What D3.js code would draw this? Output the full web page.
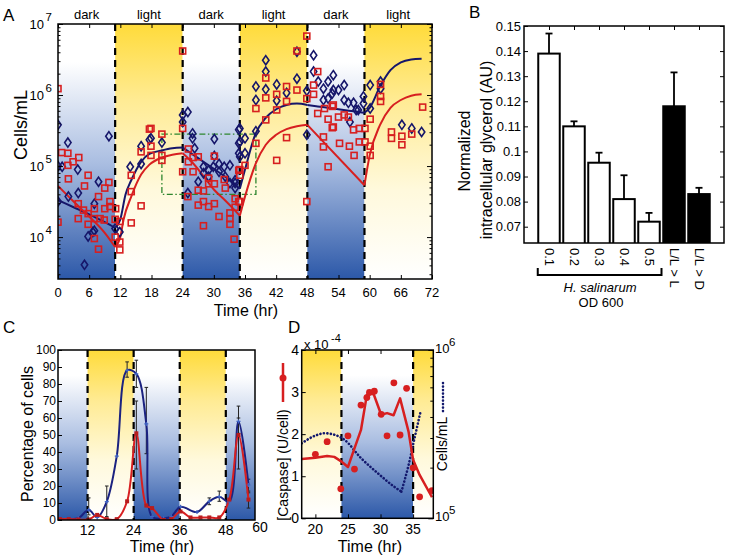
<!DOCTYPE html>
<html><head><meta charset="utf-8">
<script src="https://cdn.jsdelivr.net/npm/d3@7"></script>
<style>
body{margin:0;background:#fff}
svg{display:block}
text{font-family:"Liberation Sans",Arial,Helvetica,sans-serif;fill:#000}
</style></head>
<body><svg id="fig" width="730" height="559"></svg>
<script>
// ---------------- Panel A data ----------------
const phaseStartA = [0, 11, 24, 35, 48, 59];
const phaseEndA   = [11, 24, 35, 48, 59, 72];
const phaseNameA  = ["dark","light","dark","light","dark","light"];
const xTicksA = [0,6,12,18,24,30,36,42,48,54,60,66,72];
const yDecadesA = [4,5,6,7];
// [time (hr), log10(cells/mL)]
const diamondsA = [
 [0,5.58],[1.9,5.33],[0,5.0],[0.8,4.99],[3.8,4.95],[0,4.50],[2.0,4.57],[3.9,4.62],[7.8,4.78],[9.8,5.42],
 [7.0,4.47],[5.8,4.01],[7.0,4.09],[6.7,4.07],[11.0,4.12],[11.9,4.07],[5.1,3.61],[13.9,4.99],[16.0,5.28],[16.0,5.03],[17.6,5.37],
 [17.9,5.39],[20.0,5.33],[24.0,5.72],[25.0,5.76],[24.0,5.62],[25.9,5.46],[25.9,5.39],[30.1,5.38],[26.3,5.25],[30.1,5.14],
 [28.0,4.99],[29.0,4.94],[29.9,4.99],[31.0,5.03],[32.0,4.99],[33.1,5.01],[31.0,4.92],[28.0,4.90],[29.0,4.85],[32.2,4.85],
 [33.1,4.76],[34.1,4.80],[34.8,5.51],[34.8,5.32],[34.8,5.18],[25.0,4.62],[27.0,4.78],[34.1,4.69],
 [40.0,6.49],[46.0,6.61],[40.0,6.33],[42.1,6.15],[40.0,6.08],[46.0,6.23],[38.1,6.12],[38.1,5.93],[42.1,5.92],[44.0,6.03],
 [47.9,6.06],[47.9,5.44],[38.1,5.49],[35.0,5.53],[35.0,5.34],[36.0,5.39],[36.0,5.18],[35.0,5.13],[34.1,4.76],
 [49.2,6.56],[49.2,6.33],[50.1,6.19],[51.1,6.09],[52.0,6.19],[51.1,5.93],[52.0,5.95],[52.8,6.02],
 [53.0,6.28],[55.1,6.14],[53.0,6.07],[54.0,6.07],[55.1,5.93],[55.9,5.89],[56.9,5.89],[57.8,5.79],[58.8,5.98],[58.8,5.88],
 [56.2,5.62],[60.1,6.14],[60.1,5.81],[62.1,6.19],[62.1,6.09],[66.2,5.58],[68.1,5.53],[70.0,5.48],[57.4,5.79]
];
const squaresA = [
 [0,6.09],[0.7,5.19],[1.9,5.18],[1.9,5.01],[4.0,5.12],[2.9,5.06],[2.0,4.82],[5.8,4.87],[5.1,4.72],[7.8,4.57],[9.0,4.69],
 [9.8,4.77],[0,4.21],[3.9,4.47],[3.9,4.26],[4.9,4.38],[5.8,4.33],[5.8,4.18],[7.0,4.40],[7.0,4.26],[8.1,4.26],[8.9,4.24],
 [9.0,4.40],[10.0,4.50],[10.0,4.43],[11.1,4.40],[11.0,4.25],[7.0,3.98],[7.8,3.83],[11.0,4.0],[11.9,4.22],[11.9,3.82],
 [11.9,3.93],[14.1,4.20],[16.0,4.44],[14.1,4.64],[14.1,4.87],[16.0,5.20],[17.6,5.52],
 [24.0,6.62],[17.9,5.53],[17.9,5.28],[17.9,5.15],[20.0,5.45],[20.0,5.15],[20.0,5.08],[24.0,5.53],[24.0,4.92],[25.1,5.24],
 [25.1,5.06],[26.0,5.12],[26.0,4.92],[27.0,5.13],[25.0,4.57],[27.0,4.66],[28.0,4.65],[29.0,4.83],[29.0,4.75],[30.1,4.75],
 [30.1,5.14],[32.0,4.81],[32.2,4.69],[27.0,4.45],[28.0,4.50],[29.0,4.43],[30.1,4.47],[31.0,4.29],[33.1,4.34],[33.1,4.26],
 [33.1,4.18],[34.1,4.42],[34.8,4.50],[28.0,4.16],[33.9,3.97],[34.8,4.94],[34.1,4.54],
 [47.9,6.83],[46.0,6.62],[40.0,6.24],[44.0,6.12],[42.1,6.01],[46.0,6.07],[47.9,5.95],[40.0,5.96],[38.1,5.81],[42.1,5.79],
 [44.0,5.91],[40.0,5.65],[38.1,5.32],[44.0,5.40],[42.1,5.08],[36.0,5.01],[35.0,4.95],[35.0,4.87],[35.0,4.50],[47.9,4.50],
 [49.2,6.14],[49.2,6.01],[50.0,6.33],[50.0,5.74],[51.1,5.41],[51.1,5.27],[52.0,4.99],[51.3,5.81],[52.0,5.66],[52.8,5.54],[52.8,5.84],
 [53.0,5.86],[53.0,5.55],[54.0,5.69],[55.1,5.72],[55.9,5.69],[56.9,5.51],[58.0,5.53],[59.1,5.53],[54.2,5.32],[56.1,5.28],
 [57.0,5.15],[58.0,5.34],[59.1,5.34],[60.1,5.28],[60.1,5.15],[60.1,5.66],[62.1,6.15],[62.1,5.98],[62.1,5.91],[64.2,5.48],
 [64.2,5.39],[66.2,5.42],[66.2,5.30],[68.1,5.45],[70.2,5.83]
];
const navyFitA = [[0,4.52],[3,4.42],[6,4.32],[9,4.21],[11,4.13],[12,4.25],[13,4.6],[14.1,4.80],[16,5.06],[17.6,5.17],[20,5.22],[22,5.25],[24,5.26],
 [26,5.16],[28,5.06],[30,4.96],[32,4.86],[34,4.74],[35,4.68],[36,4.95],[38,5.45],[40,5.68],[42,5.80],[44,5.86],[46,5.88],[48,5.86],
 [50,5.84],[52,5.82],[54,5.80],[56,5.78],[58,5.76],[59,5.75],[60,5.82],[62,6.12],[64,6.35],[66,6.46],[68,6.50],[70,6.51]];
const redFitA = [[0,4.72],[3,4.50],[6,4.29],[9,4.06],[11,3.86],[12,4.0],[12.6,4.24],[14.1,4.57],[16,4.88],[17.6,5.02],[20,5.12],[22,5.16],[24,5.18],
 [26,5.04],[28,4.86],[30,4.67],[32,4.53],[34,4.38],[35,4.30],[36,4.57],[38.1,5.04],[40,5.30],[42,5.44],[44,5.52],[46,5.56],[48,5.58],
 [59,4.73],[60,5.15],[62,5.58],[64,5.82],[66,5.93],[68,5.99],[70,6.01]];
const boxTimesA = [20, 38.1];
const boxLogA = [4.6, 5.45];

// ---------------- Panel B data ----------------
const barLabelsB = ["0.1","0.2","0.3","0.4","0.5","L/L > L","L/L > D"];
const barValuesB = [0.139,0.110,0.0955,0.081,0.072,0.118,0.083];
const barErrTopB = [0.147,0.112,0.0995,0.0905,0.0755,0.1315,0.0855];
const barGroupB  = ["OD","OD","OD","OD","OD","LL","LL"];
const yTicksB = [0.07,0.08,0.09,0.10,0.11,0.12,0.13,0.14,0.15];

// ---------------- Panel C data ----------------
const phaseStartC = [4.3, 12, 24, 36, 48];
const phaseEndC   = [12, 24, 36, 48, 55.6];
const phaseNameC  = ["dark","light","dark","light","dark"];
const xTicksC = [12,24,36,48];
const yTicksC = [0,10,20,30,40,50,60,70,80,90,100];
const navyTimeC = [4.8,7.1,9.6,12.3,14.5,17.0,19.6,22.3,24.7,27.3,28.8,31.8,33.8,36.2,40.5,43.7,46.3,48.9,51.3,53.9];
const navyPctC  = [0.5,0.5,1,6,1.5,10.8,37.6,88,86,56.5,2,1,2,7.8,4.7,11,13.7,10.8,58,20.6];
const redTimeC  = [4.8,7.1,9.6,12.3,14.5,17.0,19.6,22.3,24.7,27.3,28.8,31.8,33.8,36.2,38.8,41.4,43.7,46.3,48.9,51.3,53.9];
const redPctC   = [0.5,0.5,0.3,0.3,3,0.5,0.5,11,51,8.5,7,0,0.5,5,1.5,1.5,1.5,1.5,12,50,12];
const navyErrC  = [[12.3,3,13],[17.0,2,20],[22.3,84,93],[24.7,78,94],[27.3,39,78],[43.7,9,13],[46.3,11,17],[51.3,51,67],[53.9,16,24]];
const redErrC   = [[24.7,30,70],[51.3,30,60],[53.9,7,17]];

// ---------------- Panel D data ----------------
const phaseStartD = [17.9, 24, 35];
const phaseEndD   = [24, 35, 38.1];
const phaseNameD  = ["light","dark","light"];
const xTicksD = [20,25,30,35];
const yTicksD = [0,1,2,3,4];
const caspaseDotT = [20.0,21.8,23.9,25.0,26.0,27.0,27.9,28.3,29.05,30.1,31.0,32.05,33.0,34.0,35.0,36.0,37.9];
const caspaseDotV = [1.52,1.82,0.70,1.96,1.17,2.69,2.87,2.99,3.02,2.47,1.96,3.22,1.98,3.09,1.2,0.51,0.66];
const caspaseLineT = [17.9,20,21.8,22.9,23.9,25,26,27,27.9,28.4,29,30.1,31,32,33,34.3,35,36,37.9];
const caspaseLineV = [1.41,1.44,1.48,1.46,1.36,1.22,1.66,2.1,2.93,3.0,2.93,2.46,2.5,2.45,2.85,2.06,1.39,1.03,0.5];
const cellsT = [17.9,20,21.4,23,24.5,27,29.6,32.1,33.2,34.3,35.1,36.2];
const cellsV = [2.79e5,3.10e5,3.20e5,3.13e5,2.92e5,2.28e5,1.85e5,1.54e5,1.44e5,2.07e5,2.85e5,4.40e5];

// ---------------- styles ----------------
const NAVY = "#16166a", RED = "#d71f20";
const svg = d3.select("#fig");
const defs = svg.append("defs");
function grad(id, stops){
  const g = defs.append("linearGradient").attr("id",id).attr("x1",0).attr("y1",0).attr("x2",0).attr("y2",1);
  stops.forEach(s=>g.append("stop").attr("offset",s[0]).attr("stop-color",s[1]));
}
grad("gLight", [[0,"#ffdb3a"],[0.3,"#ffeb94"],[0.65,"#fff9dc"],[1,"#ffffff"]]);
grad("gDark",  [[0,"#ffffff"],[0.15,"#ffffff"],[0.55,"#a9bde1"],[1,"#2c58a8"]]);

function clip(id, x, y, w, h){ defs.append("clipPath").attr("id",id).append("rect").attr("x",x).attr("y",y).attr("width",w).attr("height",h); }
function inTicks(g, axisFn, scale, vals, size, tr){
  const s = g.append("g").attr("transform", tr).call(axisFn(scale).tickValues(vals).tickSize(-size).tickFormat(""));
  s.select(".domain").remove();
  s.selectAll("line").attr("stroke","#000").attr("stroke-width",1);
  s.selectAll("text").remove();
}
function logMinor(lo, hi){ const out=[]; for(let d=Math.floor(Math.log10(lo)); d<=Math.ceil(Math.log10(hi)); d++){ for(let k=2;k<=9;k++){const v=k*Math.pow(10,d); if(v>lo&&v<hi) out.push(v);} } return out; }
function phases(g, xs, ys, starts, ends, names){
  starts.forEach((s,i)=>{
    g.append("rect").attr("x",xs(s)).attr("y",ys.range()[1]).attr("width",xs(ends[i])-xs(s))
      .attr("height",ys.range()[0]-ys.range()[1]).attr("fill", names[i]==="dark"?"url(#gDark)":"url(#gLight)");
  });
}
function dashes(g, xs, ys, vals){
  vals.forEach(v=>g.append("line").attr("x1",xs(v)).attr("x2",xs(v)).attr("y1",ys.range()[1]).attr("y2",ys.range()[0])
    .attr("stroke","#000").attr("stroke-width",2.2).attr("stroke-dasharray","7,5"));
}
function frame(g, xs, ys){
  g.append("rect").attr("x",xs.range()[0]).attr("y",ys.range()[1]).attr("width",xs.range()[1]-xs.range()[0])
    .attr("height",ys.range()[0]-ys.range()[1]).attr("fill","none").attr("stroke","#000").attr("stroke-width",1.5);
}
function txt(g, x, y, s, fs, anchor, extra){
  const t = g.append("text").attr("x",x).attr("y",y).attr("font-size",fs).attr("text-anchor",anchor||"start").text(s);
  if(extra) extra(t);
  return t;
}
function vtxt(g, x, y, s, fs, rot){
  return g.append("text").attr("transform",`translate(${x},${y}) rotate(${rot})`).attr("font-size",fs).attr("text-anchor","middle").text(s);
}

// ================= Panel A =================
const gA = svg.append("g");
const xA = d3.scaleLinear().domain([0,72]).range([58,432]);
const yA = d3.scaleLog().domain([Math.pow(10,3.41),1e7]).range([279,24]);
clip("clipA",58,24,374,255);
phases(gA, xA, yA, phaseStartA, phaseEndA, phaseNameA);
phaseStartA.forEach((s,i)=>txt(gA, xA((s+phaseEndA[i])/2), 19, phaseNameA[i], 13, "middle"));
dashes(gA, xA, yA, phaseStartA.slice(1));
gA.append("rect").attr("x",xA(boxTimesA[0])).attr("y",yA(Math.pow(10,boxLogA[1])))
  .attr("width",xA(boxTimesA[1])-xA(boxTimesA[0])).attr("height",yA(Math.pow(10,boxLogA[0]))-yA(Math.pow(10,boxLogA[1])))
  .attr("fill","none").attr("stroke","#2e862e").attr("stroke-width",1.3).attr("stroke-dasharray","6,2.5,1.5,2.5");
const lineA = d3.line().x(d=>xA(d[0])).y(d=>yA(Math.pow(10,d[1]))).curve(d3.curveMonotoneX);
const gAc = gA.append("g").attr("clip-path","url(#clipA)");
[[navyFitA,NAVY],[redFitA,RED]].forEach(([pts,col])=>{
  phaseStartA.forEach((s,i)=>{
    const seg = pts.filter(p=>p[0]>=s && p[0]<=phaseEndA[i]);
    if(seg.length>1) gAc.append("path").attr("d",lineA(seg)).attr("fill","none").attr("stroke",col).attr("stroke-width",2);
  });
});
gAc.selectAll(".dia").data(diamondsA).join("path").attr("class","dia")
  .attr("d","M0,-4.6L3.2,0L0,4.6L-3.2,0Z").attr("transform",d=>`translate(${xA(d[0])},${yA(Math.pow(10,d[1]))})`)
  .attr("fill","none").attr("stroke",NAVY).attr("stroke-width",1.6);
gAc.selectAll(".sq").data(squaresA).join("rect").attr("class","sq")
  .attr("x",d=>xA(d[0])-3).attr("y",d=>yA(Math.pow(10,d[1]))-3).attr("width",6).attr("height",6)
  .attr("fill","none").attr("stroke",RED).attr("stroke-width",1.6);
frame(gA, xA, yA);
const majA = yDecadesA.map(d=>Math.pow(10,d));
inTicks(gA, d3.axisBottom, xA, xTicksA, 4, `translate(0,279)`);
inTicks(gA, d3.axisTop, xA, xTicksA, 4, `translate(0,24)`);
inTicks(gA, d3.axisLeft, yA, majA, 5, `translate(58,0)`);
inTicks(gA, d3.axisRight, yA, majA, 5, `translate(432,0)`);
inTicks(gA, d3.axisLeft, yA, logMinor(yA.domain()[0], 1e7), 2.5, `translate(58,0)`);
inTicks(gA, d3.axisRight, yA, logMinor(yA.domain()[0], 1e7), 2.5, `translate(432,0)`);
xTicksA.forEach(v=>txt(gA, xA(v), 297, String(v), 13, "middle"));
yDecadesA.forEach(d=>{
  const y = yA(Math.pow(10,d));
  txt(gA, 44, y+5, "10", 13, "end");
  txt(gA, 45.5, y-3, String(d), 11.5, "start");
});
txt(gA, 246, 316, "Time (hr)", 16, "middle");
vtxt(gA, 27, 125, "Cells/mL", 18, -90);
txt(gA, 3, 21, "A", 17, "start");

// ================= Panel B =================
const gB = svg.append("g");
const xB = d3.scaleLinear().domain([0,8]).range([524,724]);
const yB = d3.scaleLinear().domain([0.0635,0.15]).range([243,26]);
clip("clipB",524,26,200,217);
const gBc = gB.append("g").attr("clip-path","url(#clipB)");
barValuesB.forEach((v,i)=>{
  const c = i+1;
  gBc.append("line").attr("x1",xB(c)).attr("x2",xB(c)).attr("y1",yB(v)).attr("y2",yB(barErrTopB[i])).attr("stroke","#000").attr("stroke-width",1.8);
  gBc.append("line").attr("x1",xB(c)-3.5).attr("x2",xB(c)+3.5).attr("y1",yB(barErrTopB[i])).attr("y2",yB(barErrTopB[i])).attr("stroke","#000").attr("stroke-width",1.8);
  gBc.append("rect").attr("x",xB(c-0.43)).attr("y",yB(v)).attr("width",xB(c+0.43)-xB(c-0.43)).attr("height",yB.range()[0]-yB(v)+3)
    .attr("fill",barGroupB[i]==="OD"?"#fff":"#000").attr("stroke","#000").attr("stroke-width",2);
});
frame(gB, xB, yB);
const posB = barValuesB.map((v,i)=>i+1);
inTicks(gB, d3.axisTop, xB, posB, 4, `translate(0,26)`);
inTicks(gB, d3.axisLeft, yB, yTicksB, 4, `translate(524,0)`);
inTicks(gB, d3.axisRight, yB, yTicksB, 4, `translate(724,0)`);
yTicksB.forEach(v=>txt(gB, 521, yB(v)+4.5, String(+v.toFixed(2)), 13, "end"));
barLabelsB.forEach((s,i)=>{
  gB.append("text").attr("transform",`translate(${xB(i+1)-4.5},248) rotate(90)`).attr("font-size",13).text(s);
});
gB.append("path").attr("d",`M${xB(0.55)},268V275H${xB(5.5)}V268`).attr("fill","none").attr("stroke","#000").attr("stroke-width",2);
txt(gB, 600, 292, "H. salinarum", 13, "middle", t=>t.attr("font-style","italic"));
txt(gB, 601, 307, "OD 600", 13, "middle");
vtxt(gB, 470, 151, "Normalized", 16, -90);
vtxt(gB, 492, 150, "intracellular glycerol (AU)", 16, -90);
txt(gB, 469, 18, "B", 17, "start");

// ================= Panel C =================
const gC = svg.append("g");
const xC = d3.scaleLinear().domain([4.3,55.6]).range([58,255]);
const yC = d3.scaleLinear().domain([0,100]).range([520,350]);
clip("clipC",58,350,197,170);
phases(gC, xC, yC, phaseStartC, phaseEndC, phaseNameC);
dashes(gC, xC, yC, phaseStartC.slice(1));
const gCc = gC.append("g").attr("clip-path","url(#clipC)");
const lineC = d3.line().x(d=>xC(d[0])).y(d=>yC(d[1])).curve(d3.curveCatmullRom.alpha(0.5));
function errC(list){
  list.forEach(([t,lo,hi])=>{
    gCc.append("line").attr("x1",xC(t)).attr("x2",xC(t)).attr("y1",yC(lo)).attr("y2",yC(hi)).attr("stroke","#222").attr("stroke-width",1);
    [lo,hi].forEach(v=>gCc.append("line").attr("x1",xC(t)-1.8).attr("x2",xC(t)+1.8).attr("y1",yC(v)).attr("y2",yC(v)).attr("stroke","#222").attr("stroke-width",1));
  });
}
errC(navyErrC); errC(redErrC);
const navyC = navyTimeC.map((t,i)=>[t,navyPctC[i]]);
const redC = redTimeC.map((t,i)=>[t,redPctC[i]]);
gCc.append("path").attr("d",lineC(navyC)).attr("fill","none").attr("stroke","#1b2280").attr("stroke-width",2);
gCc.append("path").attr("d",lineC(redC)).attr("fill","none").attr("stroke",RED).attr("stroke-width",2);
gCc.selectAll(".nm").data(navyC).join("path").attr("class","nm")
  .attr("d","M-2,0H2M0,-2V2").attr("transform",d=>`translate(${xC(d[0])},${yC(d[1])})`).attr("stroke","#3f63c4").attr("stroke-width",1.2);
gCc.selectAll(".rm").data(redC).join("rect").attr("class","rm")
  .attr("x",d=>xC(d[0])-2).attr("y",d=>yC(d[1])-2).attr("width",4).attr("height",4).attr("fill","#b81c1c");
frame(gC, xC, yC);
inTicks(gC, d3.axisBottom, xC, xTicksC, 4, `translate(0,520)`);
inTicks(gC, d3.axisLeft, yC, yTicksC, 4, `translate(58,0)`);
yTicksC.forEach(v=>txt(gC, 56, yC(v)+4, String(v), 12, "end"));
xTicksC.forEach(v=>txt(gC, xC(v), 535, String(v), 14, "middle"));
txt(gC, xC(55.6)+5, 532, "60", 14, "middle");
txt(gC, 162, 552, "Time (hr)", 16, "middle");
vtxt(gC, 33, 434, "Percentage of cells", 16, -90);
txt(gC, 3, 333, "C", 17, "start");

// ================= Panel D =================
const gD = svg.append("g");
const xD = d3.scaleLinear().domain([17.9,38.1]).range([301.7,433.3]);
const yD = d3.scaleLinear().domain([0,4]).range([518.3,350]);
const yD2 = d3.scaleLog().domain([1e5,1e6]).range([518.3,350]);
clip("clipD",301.7,350,131.6,168.3);
phases(gD, xD, yD, phaseStartD, phaseEndD, phaseNameD);
dashes(gD, xD, yD, phaseStartD.slice(1));
const gDc = gD.append("g").attr("clip-path","url(#clipD)");
const cells = cellsT.map((t,i)=>[t,cellsV[i]]);
const minIdx = cellsV.indexOf(d3.min(cellsV));
const lineD2 = d3.line().x(d=>xD(d[0])).y(d=>yD2(d[1])).curve(d3.curveMonotoneX);
[cells.slice(0,minIdx+1), cells.slice(minIdx)].forEach(seg=>{
  gDc.append("path").attr("d",lineD2(seg)).attr("fill","none").attr("stroke","#141a6e").attr("stroke-width",2.6)
    .attr("stroke-linecap","round").attr("stroke-dasharray","0.1,3.4");
});
const casp = caspaseLineT.map((t,i)=>[t,caspaseLineV[i]]);
gDc.append("path").attr("d",d3.line().x(d=>xD(d[0])).y(d=>yD(d[1]))(casp)).attr("fill","none").attr("stroke",RED).attr("stroke-width",2.5).attr("stroke-linejoin","round");
gDc.selectAll(".cd").data(caspaseDotT).join("circle").attr("class","cd")
  .attr("cx",d=>xD(d)).attr("cy",(d,i)=>yD(caspaseDotV[i])).attr("r",3.4).attr("fill",RED);
frame(gD, xD, yD);
inTicks(gD, d3.axisBottom, xD, xTicksD, 4, `translate(0,518.3)`);
inTicks(gD, d3.axisTop, xD, xTicksD, 4, `translate(0,350)`);
inTicks(gD, d3.axisLeft, yD, yTicksD, 4, `translate(301.7,0)`);
inTicks(gD, d3.axisRight, yD2, [1e5,1e6], 5, `translate(433.3,0)`);
inTicks(gD, d3.axisRight, yD2, logMinor(1e5,1e6), 3, `translate(433.3,0)`);
yTicksD.forEach(v=>txt(gD, 299, yD(v)+5, String(v), 14, "end"));
xTicksD.forEach(v=>txt(gD, xD(v), 534, String(v), 14, "middle"));
[5,6].forEach(d=>{
  const y = yD2(Math.pow(10,d));
  txt(gD, 435, y+3, "10", 13, "start");
  txt(gD, 449, y-4, String(d), 11.5, "start");
});
txt(gD, 304, 349, "x 10", 13, "start");
txt(gD, 331, 342, "-4", 11, "start");
txt(gD, 370, 552, "Time (hr)", 16, "middle");
vtxt(gD, 288, 465, "[Caspase] (U/cell)", 14, -90);
gD.append("line").attr("x1",283).attr("x2",283).attr("y1",363).attr("y2",402).attr("stroke",RED).attr("stroke-width",2.5);
gD.append("circle").attr("cx",283).attr("cy",378).attr("r",3.5).attr("fill",RED);
vtxt(gD, 447, 444, "Cells/mL", 14, -90);
gD.append("line").attr("x1",443).attr("x2",443).attr("y1",383).attr("y2",412).attr("stroke","#141a6e").attr("stroke-width",2.6)
  .attr("stroke-linecap","round").attr("stroke-dasharray","0.1,3.4");
txt(gD, 288, 333, "D", 17, "start");
</script></body></html>
